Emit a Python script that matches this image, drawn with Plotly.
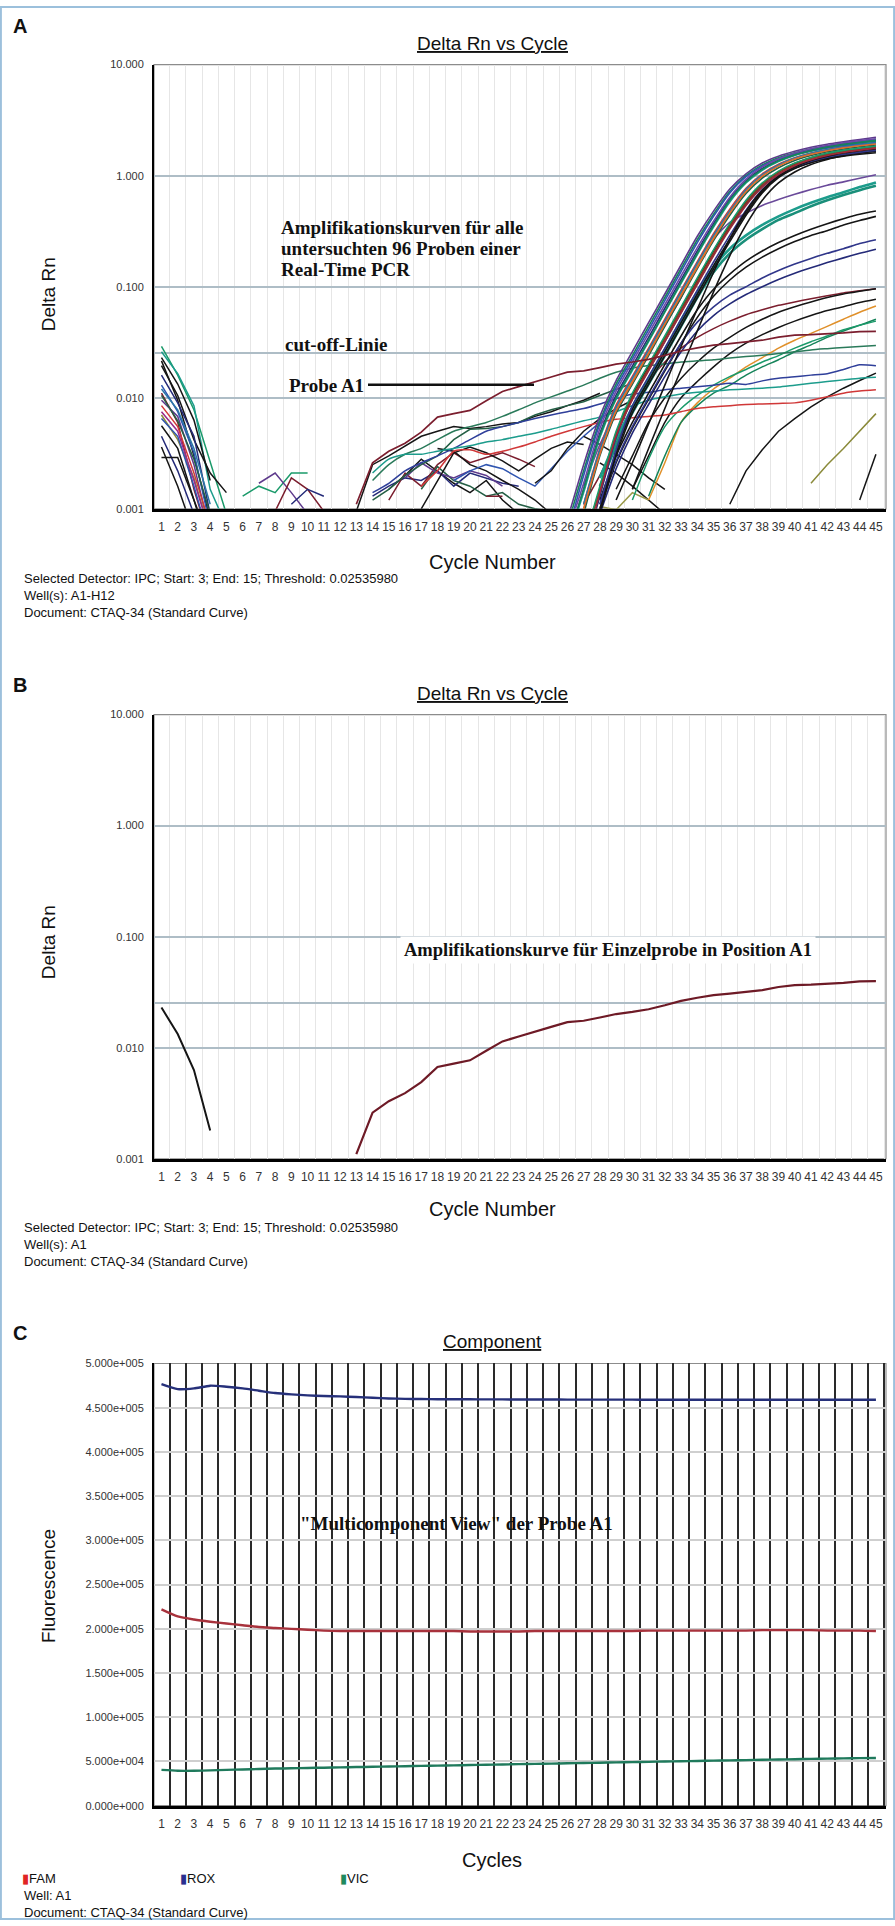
import plotly.graph_objects as go

W, H = 895, 1926

# ---------------- data ----------------
CYCLES = list(range(1, 46))
DRN_TICKVALS = [0.001, 0.01, 0.1, 1.0, 10.0]
DRN_TICKTEXT = ["0.001", "0.010", "0.100", "1.000", "10.000"]
THRESHOLD = 0.02535980
FLU_TICKVALS = [0, 50000, 100000, 150000, 200000, 250000, 300000, 350000, 400000, 450000, 500000]
FLU_TICKTEXT = ["0.000e+000", "5.000e+004", "1.000e+005", "1.500e+005", "2.000e+005", "2.500e+005",
                "3.000e+005", "3.500e+005", "4.000e+005", "4.500e+005", "5.000e+005"]

# Probe A1 (Delta Rn)
A1_EARLY_START = 1
A1_EARLY = [0.023, 0.0133, 0.0063, 0.0018]
A1_LATE_START = 13
A1_LATE = [0.0011, 0.0026, 0.0033, 0.0039, 0.0049, 0.0067, 0.0072, 0.0077, 0.0094, 0.0114,
           0.0126, 0.014, 0.0154, 0.017, 0.0175, 0.0187, 0.0201, 0.021, 0.0222, 0.0241,
           0.0264, 0.0282, 0.0298, 0.0307, 0.0317, 0.033, 0.0352, 0.0366, 0.037, 0.0374,
           0.0384, 0.0395, 0.0397]

# Panel A: early baseline segments (from cycle 1)
EARLY_CURVES = [
    [0.029, 0.016, 0.0078, 0.0026, 0.0009],
    [0.026, 0.0165, 0.0085, 0.0015, 0.0007],
    [0.0195, 0.0105, 0.0042, 0.0021, 0.0014],
    [0.0215, 0.0095, 0.003, 0.0008],
    [0.016, 0.009, 0.0045, 0.0009],
    [0.013, 0.0075, 0.0032, 0.0007],
    [0.011, 0.006, 0.0015, 0.0005],
    [0.0095, 0.0068, 0.0025, 0.0006],
    [0.0085, 0.0055, 0.0021, 0.0007],
    [0.007, 0.0042, 0.0019, 0.0006],
    [0.0056, 0.0035, 0.0012, 0.0004],
    [0.0045, 0.0022, 0.0009],
    [0.0029, 0.0029, 0.0012, 0.0005],
    [0.0036, 0.0016, 0.0006],
    [0.012, 0.0078, 0.0035, 0.0011],
    [0.0105, 0.0062, 0.0028, 0.0009],
    [0.0075, 0.005, 0.0018, 0.0006],
    [0.0065, 0.0045, 0.0016, 0.0005],
]
EARLY_COLORS = ["#1a9a6a", "#1c9c8c", "#151515", "#151515", "#242a78", "#2f55b0", "#7b1e2e",
                "#5e3a8c", "#d23a3a", "#8a8a3a", "#151515", "#242a78", "#151515", "#151515",
                "#2c78a8", "#245f45", "#9a2a8a", "#2f55b0"]

# Panel A: noise segments around cycles 6-11
NOISE_STARTS = [6, 7, 8, 9]
NOISE_CURVES = [
    [0.0013, 0.0016, 0.0014, 0.0021, 0.0021],
    [0.0017, 0.0021, 0.0014, 0.0009],
    [0.00095, 0.0019, 0.0015, 0.00095],
    [0.0011, 0.0015, 0.0013],
]
NOISE_COLORS = ["#1a9a6a", "#5e3a8c", "#7b1e2e", "#242a78"]

# Panel A: baseline zig-zag segments around cycles 13-30
MID_STARTS = [13, 15, 14, 15, 17, 18, 16, 17, 19, 24, 21, 14]
MID_CURVES = [
    [0.00095, 0.0025, 0.003, 0.0037, 0.0045, 0.005, 0.0055, 0.0053, 0.0055, 0.0058, 0.006, 0.0068, 0.0075, 0.0085, 0.0095, 0.011],
    [0.0015, 0.002, 0.0028, 0.0022, 0.0017, 0.0014, 0.0018, 0.0012, 0.0009],
    [0.0013, 0.0016, 0.0019, 0.0018, 0.0022, 0.0016, 0.0021, 0.0019, 0.0017, 0.0016],
    [0.0012, 0.0021, 0.0016, 0.0025, 0.0032, 0.0026, 0.0029, 0.0032, 0.0028, 0.0024],
    [0.0015, 0.0024, 0.0018, 0.0016, 0.0013, 0.0014, 0.0011, 0.001, 0.00095],
    [0.0035, 0.0033, 0.0025, 0.0022, 0.0018, 0.0015, 0.0012, 0.0009],
    [0.0019, 0.0026, 0.0021, 0.0019, 0.0022, 0.002, 0.0016],
    [0.001, 0.0018, 0.0032, 0.0036, 0.0032, 0.0027, 0.0022, 0.0028, 0.0035, 0.004, 0.0038],
    [0.0018, 0.0022, 0.0025, 0.0023, 0.0019, 0.0016, 0.0023, 0.0033, 0.0045, 0.006],
    [0.0017, 0.0022, 0.0035, 0.005, 0.0065, 0.008, 0.0095],
    [0.0013, 0.0013],
    [0.0012, 0.0015, 0.002, 0.0025, 0.003, 0.0042, 0.0052, 0.0053, 0.0055, 0.006, 0.007, 0.0078, 0.0085, 0.0092, 0.0105, 0.012, 0.0135],
]
MID_COLORS = ["#151515", "#151515", "#242a78", "#7b1e2e", "#245f45", "#151515", "#5e3a8c",
              "#151515", "#2f55b0", "#151515", "#7b1e2e", "#245f45"]

# Panel A: strongly amplified samples, cycles 25..45
STRONG_START = 25
STRONG_CURVES = [
    [None, 0.0008, 0.0025, 0.0068, 0.0143, 0.026, 0.0475, 0.086, 0.157, 0.285, 0.48, 0.76, 1.04, 1.3, 1.5, 1.66, 1.8, 1.92, 2.02, 2.12, 2.22],
    [None, 0.0005, 0.0015, 0.0048, 0.0106, 0.0193, 0.035, 0.064, 0.116, 0.21, 0.37, 0.62, 0.9, 1.16, 1.38, 1.56, 1.7, 1.82, 1.92, 2.01, 2.09],
    [None, 0.0007, 0.0022, 0.0062, 0.0133, 0.024, 0.044, 0.08, 0.146, 0.265, 0.45, 0.72, 1.0, 1.25, 1.45, 1.61, 1.74, 1.85, 1.95, 2.03, 2.1],
    [None, None, 0.001, 0.0032, 0.0079, 0.0143, 0.026, 0.0475, 0.086, 0.157, 0.28, 0.47, 0.73, 1.0, 1.24, 1.43, 1.58, 1.7, 1.8, 1.89, 1.96],
    [None, None, 0.0011, 0.0035, 0.0086, 0.0156, 0.028, 0.051, 0.093, 0.168, 0.3, 0.5, 0.77, 1.04, 1.27, 1.45, 1.6, 1.72, 1.82, 1.9, 1.97],
    [None, None, 0.0005, 0.0015, 0.0048, 0.0106, 0.0193, 0.035, 0.064, 0.116, 0.21, 0.36, 0.58, 0.84, 1.08, 1.29, 1.45, 1.58, 1.68, 1.76, 1.83],
    [None, 0.0005, 0.0014, 0.0044, 0.0097, 0.0177, 0.032, 0.059, 0.107, 0.195, 0.345, 0.58, 0.86, 1.12, 1.34, 1.52, 1.66, 1.78, 1.88, 1.97, 2.05],
    [None, 0.0006, 0.002, 0.0058, 0.0124, 0.0225, 0.041, 0.075, 0.137, 0.25, 0.43, 0.7, 0.98, 1.22, 1.41, 1.56, 1.68, 1.78, 1.86, 1.93, 1.99],
    [None, None, 0.0009, 0.003, 0.0073, 0.0133, 0.024, 0.044, 0.08, 0.146, 0.26, 0.44, 0.69, 0.95, 1.18, 1.37, 1.52, 1.64, 1.74, 1.82, 1.89],
    [None, None, None, 0.001, 0.0032, 0.0079, 0.0143, 0.026, 0.0475, 0.086, 0.155, 0.27, 0.46, 0.72, 0.98, 1.17, 1.31, 1.42, 1.5, 1.56, 1.61],
    [None, None, 0.0004, 0.0013, 0.0044, 0.0098, 0.0178, 0.032, 0.059, 0.107, 0.195, 0.34, 0.55, 0.8, 1.03, 1.23, 1.39, 1.51, 1.61, 1.69, 1.76],
    [None, 0.0006, 0.0017, 0.0053, 0.0115, 0.021, 0.038, 0.069, 0.125, 0.225, 0.39, 0.64, 0.93, 1.2, 1.42, 1.6, 1.75, 1.87, 1.98, 2.07, 2.15],
    [None, None, 0.0005, 0.0015, 0.0047, 0.0102, 0.0185, 0.034, 0.062, 0.112, 0.2, 0.35, 0.57, 0.83, 1.07, 1.27, 1.43, 1.55, 1.65, 1.73, 1.8],
    [None, None, None, 0.0009, 0.003, 0.0073, 0.0133, 0.024, 0.044, 0.08, 0.145, 0.255, 0.44, 0.7, 0.96, 1.16, 1.32, 1.44, 1.53, 1.6, 1.66],
    [None, None, 0.0011, 0.0034, 0.0082, 0.015, 0.027, 0.049, 0.09, 0.163, 0.29, 0.48, 0.75, 1.02, 1.25, 1.44, 1.59, 1.71, 1.81, 1.9, 1.97],
    [None, None, 0.0005, 0.0016, 0.005, 0.011, 0.02, 0.036, 0.066, 0.12, 0.215, 0.37, 0.6, 0.86, 1.1, 1.3, 1.46, 1.59, 1.69, 1.77, 1.84],
    [None, None, None, None, None, 0.0015, 0.0035, 0.008, 0.018, 0.04, 0.09, 0.19, 0.36, 0.6, 0.86, 1.08, 1.26, 1.4, 1.51, 1.6, 1.67],
    [None, None, None, 0.0011, 0.0034, 0.0085, 0.0155, 0.028, 0.051, 0.093, 0.167, 0.29, 0.49, 0.75, 1.0, 1.2, 1.35, 1.47, 1.56, 1.63, 1.69],
    [None, None, 0.001, 0.0031, 0.0076, 0.0138, 0.025, 0.046, 0.083, 0.15, 0.27, 0.46, 0.72, 0.99, 1.22, 1.41, 1.56, 1.68, 1.78, 1.86, 1.93],
    [None, 0.0005, 0.0015, 0.0046, 0.01, 0.0182, 0.033, 0.06, 0.11, 0.2, 0.355, 0.6, 0.88, 1.14, 1.36, 1.54, 1.68, 1.8, 1.9, 1.98, 2.06],
    [None, None, None, None, 0.0012, 0.0026, 0.0058, 0.013, 0.029, 0.063, 0.135, 0.27, 0.48, 0.74, 0.99, 1.2, 1.37, 1.5, 1.6, 1.68, 1.74],
    [None, None, 0.0004, 0.0014, 0.0045, 0.0096, 0.0175, 0.032, 0.058, 0.105, 0.19, 0.33, 0.54, 0.79, 1.03, 1.23, 1.39, 1.52, 1.62, 1.7, 1.77],
]
STRONG_COLORS = ["#5e3a8c", "#242a78", "#16845a", "#e08a2a", "#d23a3a", "#151515", "#1c9c8c",
                 "#2f55b0", "#245f45", "#151515", "#242a78", "#6a48a8", "#8b3a1a", "#151515",
                 "#2c78a8", "#1a9a6a", "#151515", "#30368a", "#e06a2a", "#16845a", "#151515", "#a02a3a"]

# Panel A: intermediate plateaus
MEDIUM_STARTS = [27, 28, 28, 28, 28, 28, 28]
MEDIUM_CURVES = [
    [0.0016, 0.0038, 0.0074, 0.0135, 0.025, 0.045, 0.08, 0.16, 0.27, 0.38, 0.46, 0.54, 0.61, 0.68, 0.75, 0.82, 0.88, 0.95, 1.02],
    [0.0019, 0.0042, 0.0082, 0.015, 0.027, 0.05, 0.09, 0.15, 0.22, 0.29, 0.36, 0.43, 0.5, 0.57, 0.64, 0.71, 0.79, 0.87],
    [0.0016, 0.0037, 0.0073, 0.0133, 0.024, 0.044, 0.08, 0.135, 0.2, 0.265, 0.33, 0.4, 0.46, 0.53, 0.6, 0.67, 0.74, 0.81],
    [0.0012, 0.003, 0.006, 0.011, 0.02, 0.036, 0.062, 0.095, 0.13, 0.17, 0.21, 0.25, 0.29, 0.33, 0.37, 0.41, 0.45, 0.48],
    [0.001, 0.0026, 0.0053, 0.0097, 0.0175, 0.031, 0.053, 0.082, 0.115, 0.15, 0.185, 0.22, 0.255, 0.29, 0.32, 0.36, 0.395, 0.43],
    [0.0011, 0.0027, 0.0055, 0.01, 0.018, 0.031, 0.048, 0.066, 0.084, 0.1, 0.12, 0.14, 0.16, 0.18, 0.2, 0.22, 0.245, 0.265],
    [0.0009, 0.0023, 0.0048, 0.0087, 0.0155, 0.026, 0.04, 0.055, 0.07, 0.085, 0.1, 0.116, 0.132, 0.148, 0.165, 0.182, 0.2, 0.218],
]
MEDIUM_COLORS = ["#6a4a9a", "#1c9c8c", "#1a8f7a", "#151515", "#151515", "#30368a", "#242a78"]

# Panel A: low plateaus
LOW_STARTS = [27, 29, 30, 31, 31, 30, 14, 14, 14, 17]
LOW_CURVES = [
    [0.0011, 0.002, 0.004, 0.008, 0.014, 0.021, 0.028, 0.035, 0.042, 0.049, 0.056, 0.062, 0.068, 0.073, 0.078, 0.083, 0.088, 0.092, 0.096],
    [0.0015, 0.003, 0.006, 0.01, 0.015, 0.021, 0.028, 0.035, 0.043, 0.051, 0.059, 0.066, 0.073, 0.08, 0.086, 0.091, 0.096],
    [0.0015, 0.003, 0.006, 0.01, 0.014, 0.019, 0.025, 0.031, 0.037, 0.043, 0.049, 0.055, 0.061, 0.066, 0.072, 0.077],
    [0.0012, 0.0026, 0.006, 0.009, 0.012, 0.015, 0.019, 0.023, 0.028, 0.033, 0.038, 0.044, 0.051, 0.059, 0.067],
    [0.0013, 0.003, 0.006, 0.0085, 0.011, 0.013, 0.016, 0.019, 0.022, 0.026, 0.03, 0.035, 0.04, 0.045, 0.051],
    [0.0012, 0.0028, 0.0055, 0.008, 0.0105, 0.013, 0.0155, 0.018, 0.021, 0.024, 0.028, 0.032, 0.036, 0.041, 0.045, 0.049],
    [0.0018, 0.0025, 0.0031, 0.0035, 0.0042, 0.005, 0.0055, 0.006, 0.0068, 0.0078, 0.009, 0.0102, 0.0115, 0.013, 0.015, 0.017,
     0.0185, 0.0195, 0.0202, 0.021, 0.0215, 0.022, 0.0228, 0.0235, 0.0242, 0.025, 0.026, 0.027, 0.0277, 0.0284, 0.029, 0.0296],
    [0.0014, 0.0017, 0.0022, 0.0026, 0.003, 0.0035, 0.0042, 0.005, 0.0055, 0.006, 0.0065, 0.007, 0.0075, 0.008, 0.0088, 0.0098,
     0.0108, 0.0112, 0.0118, 0.0122, 0.0126, 0.013, 0.0135, 0.0132, 0.0142, 0.015, 0.0155, 0.016, 0.0165, 0.018, 0.0198, 0.0194],
    [0.0021, 0.0028, 0.0031, 0.0031, 0.0033, 0.0035, 0.0037, 0.004, 0.0042, 0.0045, 0.0048, 0.0052, 0.0057, 0.0062, 0.0067, 0.0075,
     0.0085, 0.0095, 0.0102, 0.0108, 0.0112, 0.0115, 0.0118, 0.012, 0.0122, 0.0125, 0.013, 0.0135, 0.014, 0.0145, 0.015, 0.0153],
    [0.0016, 0.0022, 0.0033, 0.0034, 0.0031, 0.0033, 0.0036, 0.004, 0.0045, 0.005, 0.0055, 0.006, 0.0064, 0.0066, 0.0068,
     0.007, 0.0075, 0.008, 0.0083, 0.0085, 0.0087, 0.0088, 0.0089, 0.009, 0.0095, 0.0102, 0.011, 0.0115, 0.0118],
]
LOW_COLORS = ["#7b1e2e", "#151515", "#151515", "#e0902a", "#16845a", "#1a9a6a", "#2a7a5a", "#2f3f9a", "#1c9c8c", "#d03838"]

# Panel A: late risers and fading segments
LATE_STARTS = [36, 41, 44, 27, 28, 28]
LATE_CURVES = [
    [0.0011, 0.0022, 0.0034, 0.005, 0.0065, 0.0083, 0.0102, 0.0122, 0.0143, 0.0167],
    [0.0017, 0.0025, 0.0035, 0.005, 0.0072],
    [0.0012, 0.0031],
    [0.0045, 0.0038, 0.0031, 0.0025, 0.0019, 0.0015],
    [0.0026, 0.0021, 0.0016, 0.0012, 0.0009],
    [0.00105, 0.00098, 0.0014, 0.0012],
]
LATE_COLORS = ["#151515", "#8a8a3a", "#151515", "#151515", "#151515", "#9a9a4a"]

# Panel C: multicomponent (fluorescence)
FAM = [222000, 214000, 210500, 208000, 206000, 204000, 202000, 201000, 200000, 199000,
       198000, 197500, 197500, 197500, 197500, 197500, 197500, 197500, 197500, 197000,
       197000, 197000, 197000, 197500, 197500, 197500, 197500, 197500, 197500, 197500,
       198000, 198000, 198000, 198000, 198000, 198000, 198000, 198500, 198500, 198500,
       198500, 198000, 198000, 198000, 197500]
ROX = [476700, 471000, 471800, 474900, 473700, 471800, 469200, 466600, 465100, 464000,
       463200, 462800, 462100, 461300, 460500, 460000, 459800, 459600, 459500, 459500,
       459400, 459400, 459300, 459300, 459300, 459200, 459200, 459200, 459100, 459100,
       459000, 459000, 459000, 459000, 459000, 459000, 459000, 459000, 459000, 459000,
       459000, 459000, 459000, 459000, 459000]
VIC = [40500, 39500, 39500, 40000, 40500, 41000, 41500, 42000, 42300, 42700,
       43000, 43300, 43700, 44000, 44300, 44700, 45000, 45300, 45600, 46000,
       46300, 46600, 47000, 47300, 47600, 48000, 48300, 48600, 49000, 49300,
       49600, 50000, 50300, 50600, 51000, 51300, 51600, 52000, 52300, 52600,
       53000, 53200, 53500, 53800, 54000]

for _c in STRONG_CURVES:
    assert len(_c) == 21

# ---------------- helpers for layout positions ----------------
def px(x):
    return x / W

def py(y):
    return 1 - y / H

SANS = "Liberation Sans, Arial, sans-serif"
NARROW = "Liberation Sans Narrow, Arial Narrow, Liberation Sans, sans-serif"
SERIF = "Liberation Serif, Times New Roman, serif"

fig = go.Figure()

def add_curve(start, values, color, xa, ya, width=1.5, shape="linear"):
    xs = list(range(start, start + len(values)))
    fig.add_trace(go.Scatter(x=xs, y=values, mode="lines", xaxis=xa, yaxis=ya,
                             line=dict(color=color, width=width, shape=shape, smoothing=0.6),
                             connectgaps=False, showlegend=False, hoverinfo="skip"))

# Panel A traces
for vals, col in zip(EARLY_CURVES, EARLY_COLORS):
    add_curve(1, vals, col, "x", "y")
for s, vals, col in zip(NOISE_STARTS, NOISE_CURVES, NOISE_COLORS):
    add_curve(s, vals, col, "x", "y")
for s, vals, col in zip(MID_STARTS, MID_CURVES, MID_COLORS):
    add_curve(s, vals, col, "x", "y")
for s, vals, col in zip(LATE_STARTS, LATE_CURVES, LATE_COLORS):
    add_curve(s, vals, col, "x", "y")
for s, vals, col in zip(LOW_STARTS, LOW_CURVES, LOW_COLORS):
    add_curve(s, vals, col, "x", "y", shape="spline")
for i, (s, vals, col) in enumerate(zip(MEDIUM_STARTS, MEDIUM_CURVES, MEDIUM_COLORS)):
    add_curve(s, vals, col, "x", "y", width=2.6 if i in (1, 2) else 1.6, shape="spline")
for vals, col in zip(STRONG_CURVES, STRONG_COLORS):
    add_curve(STRONG_START, vals, col, "x", "y", width=1.6, shape="spline")
add_curve(A1_EARLY_START, A1_EARLY, "#151515", "x", "y")
add_curve(A1_LATE_START, A1_LATE, "#7b1e2e", "x", "y", width=1.7)

# Panel B traces
add_curve(A1_EARLY_START, A1_EARLY, "#151515", "x2", "y2", width=2)
add_curve(A1_LATE_START, A1_LATE, "#6e1a26", "x2", "y2", width=2.2)

# Panel C traces
for series, col in ((ROX, "#26307a"), (FAM, "#a8323c"), (VIC, "#1f7a5c")):
    fig.add_trace(go.Scatter(x=CYCLES, y=series, mode="lines", xaxis="x3", yaxis="y3",
                             line=dict(color=col, width=2.4, shape="spline", smoothing=0.6),
                             showlegend=False, hoverinfo="skip"))

# ---------------- axes ----------------
XR = [0.54, 45.62]
XDOM = [px(154), px(886)]
half_cycles = [c - 0.5 for c in CYCLES] + [CYCLES[-1] + 0.5]

def xaxis(anchor, grid_color, grid_width):
    return dict(domain=XDOM, anchor=anchor, range=XR, tickmode="array", tickvals=CYCLES,
                ticktext=[str(c) for c in CYCLES], showgrid=False, zeroline=False,
                showline=True, linecolor="black", linewidth=3, ticks="outside", ticklen=5,
                tickcolor="rgba(0,0,0,0)",
                tickfont=dict(family=NARROW, size=12, color="#333"),
                minor=dict(tickmode="array", tickvals=half_cycles, showgrid=True,
                           gridcolor=grid_color, gridwidth=grid_width, ticks=""),
                fixedrange=True)

def log_yaxis(anchor, top, bottom):
    return dict(domain=[py(bottom), py(top)], anchor=anchor, type="log", range=[-3, 1],
                tickmode="array", tickvals=DRN_TICKVALS + [THRESHOLD],
                ticktext=DRN_TICKTEXT + [""], showgrid=True, gridcolor="#aebdc6", gridwidth=1.6,
                zeroline=False, showline=True, linecolor="black", linewidth=2, ticks="outside",
                ticklen=6, tickcolor="rgba(0,0,0,0)",
                tickfont=dict(family=NARROW, size=11, color="#333"), fixedrange=True)

layout = dict(
    width=W, height=H, margin=dict(l=0, r=0, t=0, b=0),
    paper_bgcolor="white", plot_bgcolor="white", showlegend=False,
    xaxis=xaxis("y", "#e6e6e6", 1),
    yaxis=log_yaxis("x", 59, 506),
    xaxis2=xaxis("y2", "#e6e6e6", 1),
    yaxis2=log_yaxis("x2", 713, 1160),
    xaxis3=xaxis("y3", "#2a2a2a", 1.6),
    yaxis3=dict(domain=[py(1811), py(1366)], anchor="x3", range=[0, 500000], tickmode="array",
                tickvals=FLU_TICKVALS, ticktext=FLU_TICKTEXT, showgrid=True, gridcolor="#cfcfcf",
                gridwidth=1.5, zeroline=False, showline=True, linecolor="black", linewidth=2,
                ticks="outside", ticklen=6, tickcolor="rgba(0,0,0,0)",
                tickfont=dict(family=NARROW, size=11, color="#333"), fixedrange=True),
)
fig.update_layout(**layout)

# ---------------- frames ----------------
shapes = []
for xr, yr in (("x", "y"), ("x2", "y2"), ("x3", "y3")):
    shapes.append(dict(type="rect", xref=f"{xr} domain", yref=f"{yr} domain", x0=0, x1=1, y0=0, y1=1,
                       line=dict(color="#8c8c8c", width=1.2), layer="below"))
shapes.append(dict(type="rect", xref="paper", yref="paper", x0=0.001, x1=0.999, y0=0.0005, y1=0.9995,
                   line=dict(color="#9cc0dc", width=2)))
# pointer line of "Probe A1"
shapes.append(dict(type="line", xref="paper", yref="paper", x0=px(368), x1=px(534), y0=py(381), y1=py(381),
                   line=dict(color="#111", width=2.5)))
fig.update_layout(shapes=shapes)

# ---------------- annotations ----------------
ann = []

def text(x, y, s, size, family=SANS, xanchor="center", color="#111", bold=False, angle=0, bg=None):
    d = dict(xref="paper", yref="paper", x=px(x), y=py(y), text=(f"<b>{s}</b>" if bold else s),
             showarrow=False, xanchor=xanchor, yanchor="middle", textangle=angle,
             font=dict(family=family, size=size, color=color))
    if bg:
        d.update(bgcolor=bg, borderpad=3)
    ann.append(d)

# Panel letters
text(20, 20, "A", 20, family=NARROW, bold=True)
text(20, 683, "B", 20, family=NARROW, bold=True)
text(20, 1335, "C", 20, family=NARROW, bold=True)

# Titles
text(492, 38, "<u>Delta Rn vs Cycle</u>", 19, family=NARROW)
text(492, 692, "<u>Delta Rn vs Cycle</u>", 19, family=NARROW)
text(492, 1344, "<u>Component</u>", 19, family=NARROW)

# Axis titles
text(492, 559, "Cycle Number", 20, family=NARROW)
text(492, 1211, "Cycle Number", 20, family=NARROW)
text(492, 1866, "Cycles", 20, family=NARROW)
text(48, 290, "Delta Rn", 19, angle=-90)
text(48, 942, "Delta Rn", 19, angle=-90)
text(48, 1590, "Fluorescence", 19, angle=-90)

# Footers
FOOT = 13
text(22, 576, "Selected Detector: IPC; Start: 3; End: 15; Threshold: 0.02535980", FOOT, family=NARROW, xanchor="left")
text(22, 593, "Well(s): A1-H12", FOOT, family=NARROW, xanchor="left")
text(22, 610, "Document: CTAQ-34 (Standard Curve)", FOOT, family=NARROW, xanchor="left")
text(22, 1229, "Selected Detector: IPC; Start: 3; End: 15; Threshold: 0.02535980", FOOT, family=NARROW, xanchor="left")
text(22, 1246, "Well(s): A1", FOOT, family=NARROW, xanchor="left")
text(22, 1263, "Document: CTAQ-34 (Standard Curve)", FOOT, family=NARROW, xanchor="left")
text(20, 1884, "<span style='color:#e02424'>▮</span>FAM", FOOT, family=NARROW, xanchor="left")
text(178, 1884, "<span style='color:#2a2f8f'>▮</span>ROX", FOOT, family=NARROW, xanchor="left")
text(338, 1884, "<span style='color:#1f8a5e'>▮</span>VIC", FOOT, family=NARROW, xanchor="left")
text(22, 1901, "Well: A1", FOOT, family=NARROW, xanchor="left")
text(22, 1918, "Document: CTAQ-34 (Standard Curve)", FOOT, family=NARROW, xanchor="left")

# In-plot annotations
text(279, 223, "Amplifikationskurven für alle", 19, family=SERIF, xanchor="left", bold=True)
text(279, 244, "untersuchten 96 Proben einer", 19, family=SERIF, xanchor="left", bold=True)
text(279, 265, "Real-Time PCR", 19, family=SERIF, xanchor="left", bold=True)
text(283, 341, "cut-off-Linie", 19, family=SERIF, xanchor="left", bold=True)
text(287, 382, "Probe A1", 19, family=SERIF, xanchor="left", bold=True)
text(608, 950, "Amplifikationskurve für Einzelprobe in Position A1", 18.5, family=SERIF, bold=True, bg="white")
text(456, 1527, "\"Multicomponent View\" der Probe A1", 19, family=SERIF, bold=True)

fig.update_layout(annotations=ann)

fig.write_html("out.html", config={"displayModeBar": False},
               post_script="document.body.style.margin='0px';document.body.style.padding='0px';")
